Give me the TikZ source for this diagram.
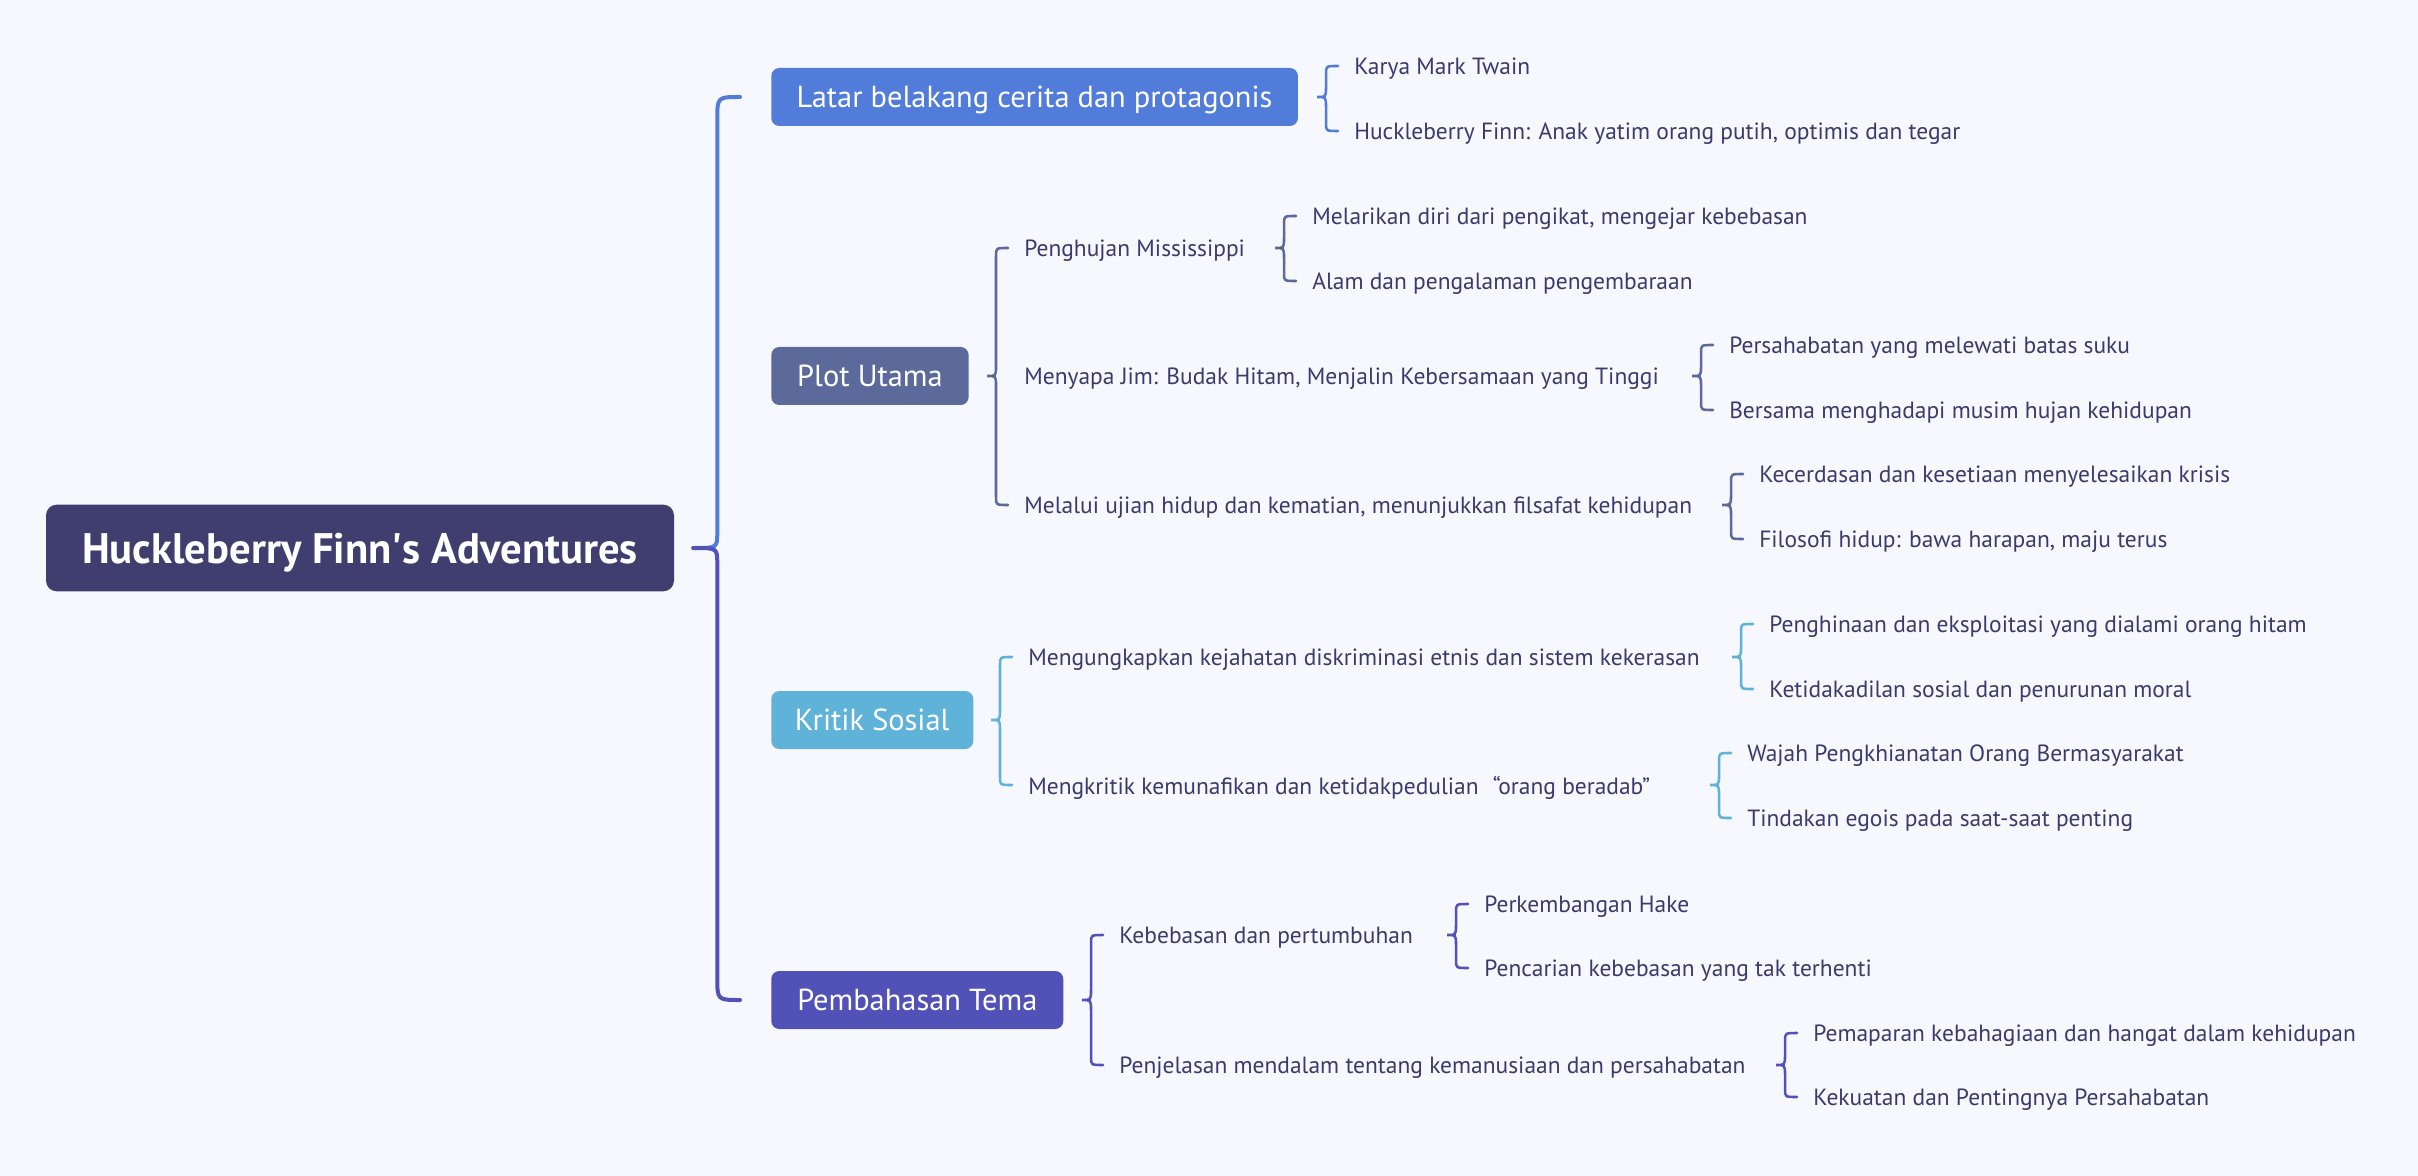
\documentclass[tikz,border=0pt]{standalone}
\usepackage{fontspec}
\setmainfont{PT Sans}
\usepackage{xcolor}
\definecolor{paper}{HTML}{F7F8FD}
\definecolor{ink}{HTML}{3B3A6B}
\definecolor{rootink}{HTML}{403E6E}
\definecolor{azure}{HTML}{527CDA}
\definecolor{dusk}{HTML}{5C6A9B}
\definecolor{skyb}{HTML}{5FB3D9}
\definecolor{iris}{HTML}{5151B8}
\usepackage{tikz}
\usetikzlibrary{calc}
\tikzset{
  rootbox/.style={fill=rootink,rounded corners=8pt,text=white,
                  font=\fontsize{32}{36}\selectfont\bfseries,text depth=0pt,
                  minimum width=471pt,minimum height=65pt,align=center},
  topic/.style  ={rounded corners=6pt,text=white,
                  font=\fontsize{22.8}{26}\selectfont,text depth=0pt,
                  minimum height=43.5pt,inner xsep=14pt,anchor=west},
  leaf/.style   ={text=ink,font=\fontsize{17.6}{21}\selectfont,text depth=0pt,
                  inner xsep=10.5pt,inner ysep=2pt,anchor=west},
  trunk/.style  ={line width=3pt,line cap=round},
  twig/.style   ={line width=1.9pt,line cap=round},
}
% curly bracket from a parent to the first and last of its children
\newcommand{\subbrace}[4]{%
  \coordinate (ba) at ($(#3.west)+(-2,0)$);
  \coordinate (bb) at ($(#4.west)+(-2,0)$);
  \coordinate (bt) at ($(ba |- #2.east)+(-21,0)$);
  \coordinate (bv) at ($(bt)+(9,0)$);
  \draw[twig,draw=#1] (ba) .. controls (ba -| bv) .. ($(ba -| bv)+(0,8)$)
    -- ($(bv)+(0,-10)$) .. controls (bv) .. (bt)
    .. controls (bv) .. ($(bv)+(0,10)$)
    -- ($(bb -| bv)+(0,-8)$) .. controls (bb -| bv) .. (bb);
}

\begin{document}
\begin{tikzpicture}[x=0.75pt,y=-0.75pt]
\fill[paper] (0,0) rectangle (2418,1176);
\useasboundingbox (0,0) rectangle (2418,1176);
\node[rootbox] (root) at (360,548) {Huckleberry Finn\textquotesingle s Adventures};
\node[topic,fill=azure,minimum width=395pt] (b1) at (771,97) {Latar belakang cerita dan protagonis};
\node[topic,fill=dusk,minimum width=148pt] (b2) at (771,376) {Plot Utama};
\node[topic,fill=skyb,minimum width=151.5pt] (b3) at (771,720) {Kritik Sosial};
\node[topic,fill=iris,minimum width=219pt] (b4) at (771,1000) {Pembahasan Tema};
% trunk: blue above the tip, indigo below
\coordinate (ma) at ($(b1.west)+(-31,0)$);
\coordinate (mb) at ($(b4.west)+(-31,0)$);
\coordinate (mt) at ($(root.east)+(19,0)$);
\coordinate (mv) at ($(mt)+(24,0)$);
\draw[trunk,draw=azure] (ma) .. controls (ma -| mv) .. ($(ma -| mv)+(0,23)$)
  -- ($(mv)+(0,-16)$) .. controls (mv) .. (mt);
\draw[trunk,draw=iris] (mt) .. controls (mv) .. ($(mv)+(0,16)$)
  -- ($(mb -| mv)+(0,-23)$) .. controls (mb -| mv) .. (mb);
% Latar belakang
\node[leaf] (b1a) at (1340,66) {Karya Mark Twain};
\node[leaf] (b1b) at (1340,131) {Huckleberry Finn: Anak yatim orang putih, optimis dan tegar};
% Plot Utama
\node[leaf] (b2a) at (1010,248) {Penghujan Mississippi};
\node[leaf] (b2b) at (1010,376) {Menyapa Jim: Budak Hitam, Menjalin Kebersamaan yang Tinggi};
\node[leaf] (b2c) at (1010,505) {Melalui ujian hidup dan kematian, menunjukkan filsafat kehidupan};
\node[leaf] (b2a1) at (1298,216) {Melarikan diri dari pengikat, mengejar kebebasan};
\node[leaf] (b2a2) at (1298,281) {Alam dan pengalaman pengembaraan};
\node[leaf] (b2b1) at (1715,345) {Persahabatan yang melewati batas suku};
\node[leaf] (b2b2) at (1715,410) {Bersama menghadapi musim hujan kehidupan};
\node[leaf] (b2c1) at (1745,474) {Kecerdasan dan kesetiaan menyelesaikan krisis};
\node[leaf] (b2c2) at (1745,539) {Filosofi hidup: bawa harapan, maju terus};
% Kritik Sosial
\node[leaf] (b3a) at (1014,657) {Mengungkapkan kejahatan diskriminasi etnis dan sistem kekerasan};
\node[leaf] (b3b) at (1014,785) {Mengkritik kemunafikan dan ketidakpedulian\hspace{0.6em}“orang beradab”};
\node[leaf] (b3a1) at (1755,624) {Penghinaan dan eksploitasi yang dialami orang hitam};
\node[leaf] (b3a2) at (1755,689) {Ketidakadilan sosial dan penurunan moral};
\node[leaf] (b3b1) at (1733,753) {Wajah Pengkhianatan Orang Bermasyarakat};
\node[leaf] (b3b2) at (1733,818) {Tindakan egois pada saat-saat penting};
% Pembahasan Tema
\node[leaf] (b4a) at (1105,935) {Kebebasan dan pertumbuhan};
\node[leaf] (b4b) at (1105,1065) {Penjelasan mendalam tentang kemanusiaan dan persahabatan};
\node[leaf] (b4a1) at (1470,904) {Perkembangan Hake};
\node[leaf] (b4a2) at (1470,968) {Pencarian kebebasan yang tak terhenti};
\node[leaf] (b4b1) at (1799,1033) {Pemaparan kebahagiaan dan hangat dalam kehidupan};
\node[leaf] (b4b2) at (1799,1097) {Kekuatan dan Pentingnya Persahabatan};
\foreach \p/\a/\b/\c in {b1/b1a/b1b/azure, b2/b2a/b2c/dusk, b2a/b2a1/b2a2/dusk,
    b2b/b2b1/b2b2/dusk, b2c/b2c1/b2c2/dusk, b3/b3a/b3b/skyb, b3a/b3a1/b3a2/skyb,
    b3b/b3b1/b3b2/skyb, b4/b4a/b4b/iris, b4a/b4a1/b4a2/iris, b4b/b4b1/b4b2/iris}
  \subbrace{\c}{\p}{\a}{\b};
\end{tikzpicture}
\end{document}
